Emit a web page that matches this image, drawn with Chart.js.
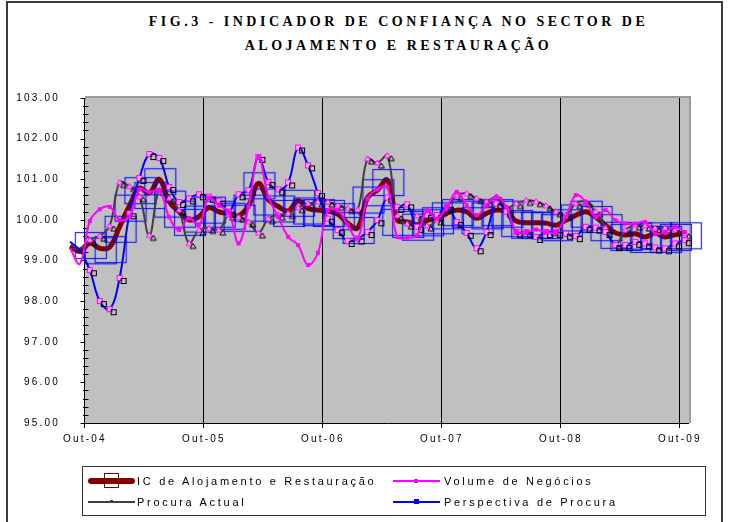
<!DOCTYPE html>
<html>
<head>
<meta charset="utf-8">
<script src="https://cdn.jsdelivr.net/npm/chart.js@4.4.1/dist/chart.umd.min.js"></script>
<style>
  body { margin: 0; background: #fff; width: 735px; height: 522px; overflow: hidden; position: relative;
         font-family: "Liberation Sans", Arial, sans-serif; }
  #frame { position: absolute; left: 6px; top: 1px; width: 717px; height: 540px; border: 2px solid #3a3a3a;
           border-bottom: none; box-sizing: border-box; }
  #title { position: absolute; left: 0; top: 10px; width: 797px; text-align: center;
           font: bold 14px "Liberation Serif", "Times New Roman", serif; letter-spacing: 3.5px; line-height: 24px; color: #000; }
  #chart { position: absolute; left: 0; top: 0; }
  #legend { position: absolute; left: 82px; top: 466px; width: 624px; height: 50px; border: 1px solid #333; box-sizing: border-box; }
  .sym { position: absolute; }
  .lbl { position: absolute; font-size: 11px; letter-spacing: 2.7px; line-height: 14px; color: #000; white-space: nowrap; }
</style>
</head>
<body>
<div id="frame"></div>
<div id="title">FIG.3 - INDICADOR DE CONFIANÇA NO SECTOR DE<br>ALOJAMENTO E RESTAURAÇÃO</div>
<canvas id="chart" width="735" height="522"></canvas>

<!-- legend -->
<div id="legend"></div>
<div class="sym" style="left:88px;top:478px;width:47px;height:6px;background:#800000;border-radius:3px"></div>
<div class="sym" style="left:104px;top:473px;width:15px;height:15px;border:1.5px solid #800000;box-sizing:border-box"></div>
<div class="lbl" style="left:137px;top:474px">IC de Alojamento e Restauração</div>
<div class="sym" style="left:393px;top:480px;width:47px;height:2px;background:#ff00ff"></div>
<div class="sym" style="left:414px;top:479px;width:4px;height:4px;background:#ff00ff"></div>
<div class="lbl" style="left:444px;top:474px">Volume de Negócios</div>
<div class="sym" style="left:88px;top:501px;width:47px;height:2px;background:#404040"></div>
<div class="sym" style="left:110px;top:500px;width:3px;height:3px;background:#404040"></div>
<div class="lbl" style="left:137px;top:495px">Procura Actual</div>
<div class="sym" style="left:393px;top:501px;width:47px;height:2px;background:#0000ff"></div>
<div class="sym" style="left:414px;top:499px;width:5px;height:5px;background:#0000ff"></div>
<div class="lbl" style="left:444px;top:495px">Perspectiva de Procura</div>

<script>
// monthly values, first point Aug-04, last Oct-09
const xTickPos = [1.5, 13.5, 25.5, 37.5, 49.5, 61.5];
const xTickLabels = ['Out-04', 'Out-05', 'Out-06', 'Out-07', 'Out-08', 'Out-09'];

const icAlojamento = [
  99.35, 99.22, 99.43, 99.30, 99.33, 99.83, 100.35, 100.78, 100.66, 101.00,
  100.45, 100.20, 100.00, 100.08, 100.30, 100.20, 100.15, 100.10, 100.35, 100.90,
  100.50, 100.33, 100.22, 100.47, 100.28, 100.24, 100.22, 100.14, 99.92, 99.80,
  100.55, 100.73, 100.98, 100.00, 99.95, 99.88, 99.99, 100.04, 100.16, 100.24,
  100.20, 100.04, 100.16, 100.24, 100.20, 99.97, 99.93, 99.93, 99.92, 99.87,
  99.99, 100.11, 100.20, 100.07, 99.87, 99.68, 99.63, 99.66, 99.58, 99.67,
  99.58, 99.63, 99.67
];
const volumeNegocios = [
  99.30, 98.92, 99.97, 100.26, 100.32, 100.00, 100.09, 100.75, 100.68, 100.73,
  100.07, 99.75, 100.05, 99.87, 100.55, 100.35, 100.20, 99.42, 100.32, 101.55,
  100.57, 100.07, 99.58, 99.38, 98.89, 99.19, 100.24, 100.24, 99.87, 99.54,
  100.53, 100.75, 100.81, 99.58, 99.56, 99.62, 100.24, 100.03, 100.32, 100.69,
  100.36, 100.12, 100.36, 100.57, 100.32, 99.70, 99.70, 99.76, 99.70, 99.70,
  100.07, 100.61, 100.44, 100.07, 100.24, 99.99, 99.91, 99.91, 99.95, 99.66,
  99.70, 99.83, 99.70
];
const procuraActual = [
  99.30, 99.30, 99.50, 99.60, 99.85, 100.92, 100.82, 100.57, 99.62, 100.73,
  100.53, 100.24, 99.42, 99.75, 99.79, 99.75, 100.12, 100.07, 99.95, 99.68,
  100.03, 100.12, 100.16, 100.30, 100.40, 100.44, 100.44, 100.36, 100.28, 100.25,
  101.50, 101.40, 101.58, 100.10, 99.90, 100.10, 99.85, 100.00, 100.30, 100.60,
  100.65, 100.53, 100.45, 100.57, 100.30, 100.40, 100.48, 100.45, 100.35, 100.20,
  100.12, 100.40, 100.44, 100.20, 99.80, 99.38, 99.75, 99.87, 99.85, 99.80,
  99.80, 99.75, 99.66
];
const perspectivaProcura = [
  99.46, 99.25, 98.76, 98.00, 97.80, 98.57, 100.16, 101.03, 101.62, 101.52,
  100.81, 100.44, 100.53, 100.63, 100.57, 100.47, 100.20, 100.63, 100.73, 101.55,
  100.93, 100.75, 100.92, 101.78, 101.34, 100.66, 100.03, 99.75, 99.48, 99.54,
  99.70, 99.99, 100.55, 100.32, 100.38, 99.83, 100.12, 100.12, 100.32, 99.95,
  99.68, 99.30, 99.70, 100.40, 100.20, 99.70, 99.70, 99.58, 99.70, 99.70,
  99.66, 99.60, 99.83, 99.81, 99.70, 99.38, 99.38, 99.46, 99.42, 99.32,
  99.30, 99.42, 99.50
];

const toPoints = arr => arr.map((v, i) => ({ x: i, y: v }));
// markers only from Out-04 on (first two months sit left of the axis)
const markerRadius = ctx => (ctx.dataIndex < 2 ? 0 : 3);

// marker images
function markerCanvas(w, h, draw) {
  const c = document.createElement('canvas');
  c.width = w; c.height = h;
  draw(c.getContext('2d'));
  return c;
}
const boxMarker = markerCanvas(38, 36, ctx => {
  ctx.strokeStyle = 'rgba(0,0,255,0.85)';
  ctx.lineWidth = 1.2;
  ctx.strokeRect(4.5, 7.5, 31, 26);
});
const squareMarker = markerCanvas(22, 22, ctx => {
  ctx.fillStyle = '#ffaaff';
  ctx.fillRect(9, 9, 4, 4);
  ctx.strokeStyle = '#ff00ff';
  ctx.lineWidth = 1;
  ctx.strokeRect(8.5, 8.5, 5, 5);
  ctx.strokeStyle = '#000';
  ctx.strokeRect(12.5, 11.5, 5, 5);
});
const triMarker = markerCanvas(22, 22, ctx => {
  ctx.lineWidth = 1;
  ctx.strokeStyle = '#ff00ff';
  ctx.fillStyle = '#ffaaff';
  ctx.beginPath(); ctx.moveTo(11, 8); ctx.lineTo(14, 13); ctx.lineTo(8, 13); ctx.closePath();
  ctx.fill(); ctx.stroke();
  ctx.strokeStyle = '#000';
  ctx.beginPath(); ctx.moveTo(15, 11); ctx.lineTo(18, 16); ctx.lineTo(12, 16); ctx.closePath();
  ctx.stroke();
});
const smallMarker = markerCanvas(8, 8, ctx => {
  ctx.fillStyle = '#ff00ff';
  ctx.fillRect(2, 2, 4, 4);
});

// grey plot area, axes drawn at Out-04
const plotArea = {
  id: 'plotArea',
  beforeDraw(chart) {
    const { ctx, chartArea, scales } = chart;
    const x0 = scales.x.getPixelForValue(xTickPos[0]);
    ctx.save();
    ctx.fillStyle = '#c0c0c0';
    ctx.fillRect(x0, chartArea.top, chartArea.right - x0, chartArea.bottom - chartArea.top);
    ctx.strokeStyle = '#9a9a9a';
    ctx.lineWidth = 2;
    ctx.beginPath();
    ctx.moveTo(x0, chartArea.top - 1);
    ctx.lineTo(chartArea.right + 1, chartArea.top - 1);
    ctx.lineTo(chartArea.right + 1, chartArea.bottom);
    ctx.stroke();
    ctx.restore();
    ctx.letterSpacing = '2.2px';
  },
  beforeDatasetsDraw(chart) {
    const { ctx, chartArea, scales } = chart;
    const x0 = Math.round(scales.x.getPixelForValue(xTickPos[0])) + 0.5;
    ctx.save();
    ctx.strokeStyle = '#000';
    ctx.lineWidth = 1;
    ctx.beginPath();
    ctx.moveTo(x0, Math.round(chartArea.bottom) + 0.5);
    ctx.lineTo(chartArea.right, Math.round(chartArea.bottom) + 0.5);
    for (let v = 95; v <= 103.001; v += 0.2) {
      const y = Math.round(scales.y.getPixelForValue(v)) + 0.5;
      const major = Math.abs(v - Math.round(v)) < 0.01;
      if (major) { ctx.moveTo(x0 - 5, y); ctx.lineTo(x0, y); }
      else { ctx.moveTo(x0 - 2.5, y); ctx.lineTo(x0 + 3, y); }
    }
    ctx.stroke();
    ctx.restore();
  }
};

new Chart(document.getElementById('chart'), {
  type: 'line',
  data: {
    datasets: [
      {
        label: 'Volume de Negócios',
        data: toPoints(volumeNegocios),
        borderColor: '#ff00ff',
        borderWidth: 2,
        tension: 0.4,
        pointStyle: smallMarker,
        pointRadius: markerRadius,
        order: 1,
        clip: false
      },
      {
        label: 'Perspectiva de Procura',
        data: toPoints(perspectivaProcura),
        borderColor: '#0000ff',
        borderWidth: 2,
        tension: 0.4,
        pointStyle: squareMarker,
        pointRadius: markerRadius,
        order: 2,
        clip: false
      },
      {
        label: 'Procura Actual',
        data: toPoints(procuraActual),
        borderColor: '#404040',
        borderWidth: 2,
        tension: 0.4,
        pointStyle: triMarker,
        pointRadius: markerRadius,
        order: 3,
        clip: false
      },
      {
        label: 'IC de Alojamento e Restauração',
        data: toPoints(icAlojamento),
        borderColor: '#800000',
        borderWidth: 5,
        tension: 0.4,
        pointStyle: boxMarker,
        pointRadius: markerRadius,
        order: 4,
        clip: false
      }
    ]
  },
  options: {
    responsive: false,
    animation: false,
    devicePixelRatio: 1,
    layout: { padding: { left: 0, right: 46, top: 98, bottom: 69 } },
    plugins: { legend: { display: false }, tooltip: { enabled: false } },
    scales: {
      x: {
        type: 'linear',
        min: 0,
        max: 62.42,
        afterBuildTicks: scale => { scale.ticks = xTickPos.map(v => ({ value: v })); },
        afterFit: scale => { scale.height = 30; },
        ticks: {
          autoSkip: false,
          maxRotation: 0,
          padding: 5,
          color: '#000',
          font: { family: '"Liberation Sans", Arial, sans-serif', size: 10 },
          callback: (v, i) => xTickLabels[i]
        },
        grid: { color: '#000', lineWidth: 1, drawTicks: true, tickLength: 5, tickColor: '#000' },
        border: { display: false }
      },
      y: {
        min: 95,
        max: 103,
        afterFit: scale => { scale.width = 70; },
        ticks: {
          stepSize: 1,
          padding: 2,
          color: '#000',
          font: { family: '"Liberation Sans", Arial, sans-serif', size: 10 },
          callback: v => v.toFixed(2)
        },
        grid: { display: false },
        border: { display: false }
      }
    }
  },
  plugins: [plotArea]
});
</script>
</body>
</html>
